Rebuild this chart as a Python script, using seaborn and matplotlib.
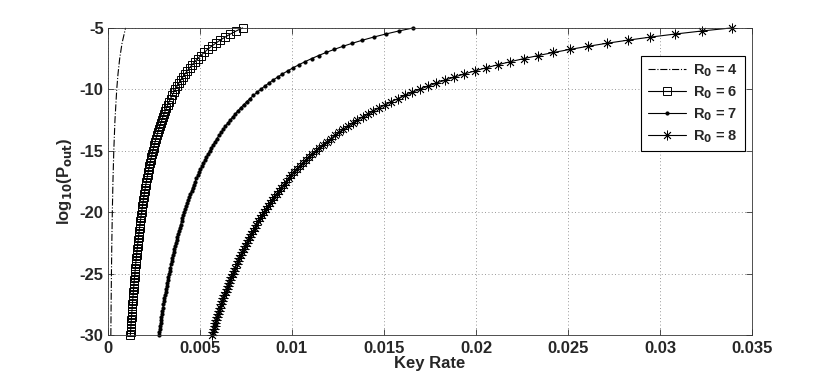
import numpy as np
import pandas as pd
import seaborn as sns
import matplotlib.pyplot as plt
from matplotlib.ticker import FuncFormatter, MultipleLocator

# log10(P_out) grid (same for R0 = 6, 7, 8)
log_pout = [
    -30.0, -29.75, -29.5, -29.25, -29.0, -28.75, -28.5, -28.25, -28.0, -27.75,
    -27.5, -27.25, -27.0, -26.75, -26.5, -26.25, -26.0, -25.75, -25.5, -25.25,
    -25.0, -24.75, -24.5, -24.25, -24.0, -23.75, -23.5, -23.25, -23.0, -22.75,
    -22.5, -22.25, -22.0, -21.75, -21.5, -21.25, -21.0, -20.75, -20.5, -20.25,
    -20.0, -19.75, -19.5, -19.25, -19.0, -18.75, -18.5, -18.25, -18.0, -17.75,
    -17.5, -17.25, -17.0, -16.75, -16.5, -16.25, -16.0, -15.75, -15.5, -15.25,
    -15.0, -14.75, -14.5, -14.25, -14.0, -13.75, -13.5, -13.25, -13.0, -12.75,
    -12.5, -12.25, -12.0, -11.75, -11.5, -11.25, -11.0, -10.75, -10.5, -10.25,
    -10.0, -9.75, -9.5, -9.25, -9.0, -8.75, -8.5, -8.25, -8.0, -7.75,
    -7.5, -7.25, -7.0, -6.75, -6.5, -6.25, -6.0, -5.75, -5.5, -5.25,
    -5.0]

# R0 = 4 (dash-dot, no markers)
log_pout_r4 = [-30.0, -27.5, -25.0, -22.5, -20.0, -17.5, -15.0, -12.5, -10.0, -8.75, -7.5, -6.25, -5.0]
key_rate_r4 = [0.00016, 0.000175, 0.000192, 0.000213, 0.00024, 0.000274, 0.00032,
               0.000384, 0.00048, 0.000549, 0.00064, 0.000768, 0.00096]

key_rate_r6 = [
    0.001220, 0.001230, 0.001241, 0.001251, 0.001262, 0.001273, 0.001284, 0.001296, 0.001307, 0.001319,
    0.001331, 0.001343, 0.001356, 0.001368, 0.001381, 0.001394, 0.001408, 0.001421, 0.001435, 0.001450,
    0.001464, 0.001479, 0.001494, 0.001509, 0.001525, 0.001541, 0.001557, 0.001574, 0.001591, 0.001609,
    0.001627, 0.001645, 0.001664, 0.001683, 0.001702, 0.001722, 0.001743, 0.001764, 0.001785, 0.001807,
    0.001830, 0.001853, 0.001877, 0.001901, 0.001926, 0.001952, 0.001978, 0.002006, 0.002033, 0.002062,
    0.002091, 0.002122, 0.002153, 0.002185, 0.002218, 0.002252, 0.002288, 0.002324, 0.002361, 0.002400,
    0.002440, 0.002481, 0.002524, 0.002568, 0.002614, 0.002662, 0.002711, 0.002762, 0.002815, 0.002871,
    0.002928, 0.002988, 0.003050, 0.003115, 0.003183, 0.003253, 0.003327, 0.003405, 0.003486, 0.003571,
    0.003660, 0.003754, 0.003853, 0.003957, 0.004067, 0.004183, 0.004306, 0.004436, 0.004575, 0.004723,
    0.004880, 0.005048, 0.005229, 0.005422, 0.005631, 0.005856, 0.006100, 0.006365, 0.006655, 0.006971,
    0.007320]

key_rate_r7 = [
    0.002767, 0.002790, 0.002814, 0.002838, 0.002862, 0.002887, 0.002912, 0.002938, 0.002964, 0.002991,
    0.003018, 0.003046, 0.003074, 0.003103, 0.003132, 0.003162, 0.003192, 0.003223, 0.003255, 0.003287,
    0.003320, 0.003354, 0.003388, 0.003423, 0.003458, 0.003495, 0.003532, 0.003570, 0.003609, 0.003648,
    0.003689, 0.003730, 0.003773, 0.003816, 0.003861, 0.003906, 0.003952, 0.004000, 0.004049, 0.004099,
    0.004150, 0.004203, 0.004256, 0.004312, 0.004368, 0.004427, 0.004486, 0.004548, 0.004611, 0.004676,
    0.004743, 0.004812, 0.004882, 0.004955, 0.005030, 0.005108, 0.005188, 0.005270, 0.005355, 0.005443,
    0.005533, 0.005627, 0.005724, 0.005825, 0.005929, 0.006036, 0.006148, 0.006264, 0.006385, 0.006510,
    0.006640, 0.006776, 0.006917, 0.007064, 0.007217, 0.007378, 0.007545, 0.007721, 0.007905, 0.008098,
    0.008300, 0.008513, 0.008737, 0.008973, 0.009222, 0.009486, 0.009765, 0.010061, 0.010375, 0.010710,
    0.011067, 0.011448, 0.011857, 0.012296, 0.012769, 0.013280, 0.013833, 0.014435, 0.015091, 0.015810,
    0.016600]

key_rate_r8 = [
    0.005650, 0.005697, 0.005746, 0.005795, 0.005845, 0.005896, 0.005947, 0.006000, 0.006054, 0.006108,
    0.006164, 0.006220, 0.006278, 0.006336, 0.006396, 0.006457, 0.006519, 0.006583, 0.006647, 0.006713,
    0.006780, 0.006848, 0.006918, 0.006990, 0.007063, 0.007137, 0.007213, 0.007290, 0.007370, 0.007451,
    0.007533, 0.007618, 0.007705, 0.007793, 0.007884, 0.007976, 0.008071, 0.008169, 0.008268, 0.008370,
    0.008475, 0.008582, 0.008692, 0.008805, 0.008921, 0.009040, 0.009162, 0.009288, 0.009417, 0.009549,
    0.009686, 0.009826, 0.009971, 0.010119, 0.010273, 0.010431, 0.010594, 0.010762, 0.010935, 0.011115,
    0.011300, 0.011492, 0.011690, 0.011895, 0.012107, 0.012327, 0.012556, 0.012792, 0.013038, 0.013294,
    0.013560, 0.013837, 0.014125, 0.014426, 0.014739, 0.015067, 0.015409, 0.015767, 0.016143, 0.016537,
    0.016950, 0.017385, 0.017842, 0.018324, 0.018833, 0.019371, 0.019941, 0.020545, 0.021188, 0.021871,
    0.022600, 0.023379, 0.024214, 0.025111, 0.026077, 0.027120, 0.028250, 0.029478, 0.030818, 0.032286,
    0.033900]

labels = ['R$_0$ = 4', 'R$_0$ = 6', 'R$_0$ = 7', 'R$_0$ = 8']

sns.set_theme(style='ticks')
plt.rcParams['font.family'] = ['Liberation Sans', 'DejaVu Sans']
plt.rcParams['font.weight'] = 'bold'
plt.rcParams['mathtext.default'] = 'bf'
plt.rcParams['axes.unicode_minus'] = False

fig = plt.figure(figsize=(8.3, 3.77), dpi=100)
ax = fig.add_axes([0.130, 0.111, 0.776, 0.815])

common = dict(ax=ax, color='black', linewidth=0.8, sort=False, estimator=None, clip_on=False)
sns.lineplot(x=key_rate_r4, y=log_pout_r4, linestyle='-.', label=labels[0], **common)
sns.lineplot(x=key_rate_r6, y=log_pout, marker='s', markersize=6, markerfacecolor='none',
             markeredgecolor='black', markeredgewidth=0.7, label=labels[1], **common)
sns.lineplot(x=key_rate_r7, y=log_pout, marker='.', markersize=4.5, markeredgecolor='black',
             label=labels[2], **common)
sns.lineplot(x=key_rate_r8, y=log_pout, marker=(8, 2, 0), markersize=7, markeredgecolor='black',
             markeredgewidth=0.6, label=labels[3], **common)

ax.set_xlim(0, 0.035)
ax.set_ylim(-30, -5)
ax.xaxis.set_major_locator(MultipleLocator(0.005))
ax.yaxis.set_major_locator(MultipleLocator(5))
fmt = FuncFormatter(lambda v, p: '%g' % round(v, 6))
ax.xaxis.set_major_formatter(fmt)
ax.yaxis.set_major_formatter(fmt)

ax.grid(True, linestyle=(0, (1, 3)), linewidth=0.6, color='#777777')
ax.tick_params(direction='in', top=True, right=True, length=4, width=0.6,
               labelsize=12, color='#333333')
ax.tick_params(axis='x', pad=4)
ax.tick_params(axis='y', pad=3)
for s in ax.spines.values():
    s.set_linewidth(0.6)
    s.set_color('#333333')

ax.set_xlabel('Key Rate', fontsize=12, fontweight='bold', labelpad=0)
ax.set_ylabel('log$_{10}$(P$_{out}$)', fontsize=12, fontweight='bold', labelpad=4)

leg = ax.legend(loc='upper right', bbox_to_anchor=(0.989, 0.909), borderaxespad=0,
                fontsize=10.5, handlelength=2.6, labelspacing=0.35, borderpad=0.45,
                handletextpad=0.5, fancybox=False, framealpha=1, edgecolor='black')
leg.get_frame().set_linewidth(0.8)

plt.savefig('out.png', dpi=100)
